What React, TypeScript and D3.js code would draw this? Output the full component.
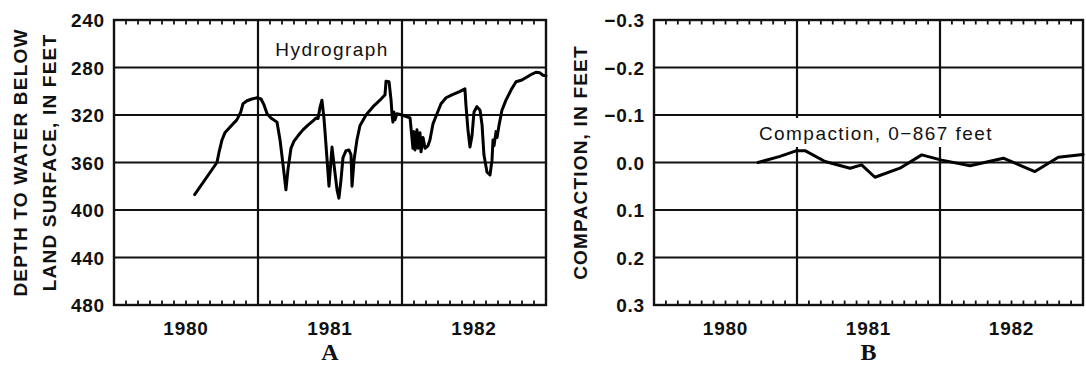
import React from "react";
import * as d3 from "d3";

// Water-level hydrograph: decimal year and depth to water (feet below land surface)
const HYDRO_TIME = [
  1980.56, 1980.715, 1980.73, 1980.75, 1980.77, 1980.8, 1980.826, 1980.847, 1980.86, 1980.88,
  1980.896, 1980.924, 1980.958, 1980.993, 1981.021, 1981.042, 1981.063, 1981.09, 1981.132, 1981.153,
  1981.174, 1981.194, 1981.208, 1981.229, 1981.25, 1981.278, 1981.312, 1981.347, 1981.382, 1981.403,
  1981.417, 1981.43, 1981.444, 1981.458, 1981.472, 1981.493, 1981.507, 1981.514, 1981.528, 1981.549,
  1981.562, 1981.576, 1981.59, 1981.611, 1981.632, 1981.646, 1981.653, 1981.667, 1981.687, 1981.708,
  1981.75, 1981.799, 1981.847, 1981.882, 1981.889, 1981.91, 1981.924, 1981.931, 1981.937, 1981.944,
  1981.951, 1981.965, 1982.0, 1982.035, 1982.056, 1982.069, 1982.076, 1982.083, 1982.09, 1982.104,
  1982.111, 1982.125, 1982.132, 1982.146, 1982.16, 1982.18, 1982.194, 1982.215, 1982.243, 1982.271,
  1982.306, 1982.347, 1982.396, 1982.437, 1982.444, 1982.458, 1982.472, 1982.486, 1982.5, 1982.52,
  1982.542, 1982.556, 1982.569, 1982.59, 1982.611, 1982.625, 1982.632, 1982.639, 1982.653, 1982.66,
  1982.674, 1982.694, 1982.722, 1982.757, 1982.792, 1982.833, 1982.868, 1982.903, 1982.93, 1982.958,
  1982.979, 1983.0,
];
const HYDRO_DEPTH = [
  387, 360, 351, 341, 335, 331, 327.5, 325, 322.5, 317.5,
  310.5, 308, 306.5, 305.5, 306.5, 311.5, 319, 322.5, 326, 341,
  362, 383, 366, 348, 342, 337.5, 332.5, 328.5, 325, 322.5,
  323, 314, 307.5, 322.5, 345, 380, 358, 347, 362, 383,
  390, 375, 356, 350, 349.5, 353.5, 380, 358, 341, 329,
  320, 313, 307.5, 303, 291.5, 292, 307.5, 320, 326, 317.5,
  324, 319, 320, 321.5, 322.5, 339, 348, 334, 349.5, 332.5,
  348, 335, 351, 339, 348, 346, 341, 327.5, 319, 310.5,
  305.5, 303, 300.5, 298, 311.5, 332.5, 347, 337.5, 317.5, 313,
  316, 328.5, 353.5, 368, 370.5, 358, 341, 346, 334, 339,
  328.5, 316, 307.5, 299, 292, 290.5, 288, 285.5, 284, 284.5,
  286.5, 287,
];

// Extensometer record: decimal year and compaction (feet, negative = expansion)
const COMP_TIME = [
  1980.727, 1980.881, 1980.998, 1981.056, 1981.196, 1981.371, 1981.452, 1981.545, 1981.72,
  1981.872, 1982.012, 1982.21, 1982.443, 1982.664, 1982.827, 1983.0,
];
const COMP_VALUE = [
  0.0, -0.013, -0.025, -0.025, -0.002, 0.012, 0.005, 0.031, 0.012,
  -0.016, -0.005, 0.007, -0.009, 0.019, -0.011, -0.017,
];

const YEARS = [1980, 1981, 1982];
const YEAR_LABELS = ["1980", "1981", "1982"];
const DEPTH_TICKS = [240, 280, 320, 360, 400, 440, 480];
const DEPTH_LABELS = ["240", "280", "320", "360", "400", "440", "480"];
const COMP_TICKS = [-0.3, -0.2, -0.1, 0, 0.1, 0.2, 0.3];
const COMP_LABELS = ["\u22120.3", "\u22120.2", "\u22120.1", "0.0", "0.1", "0.2", "0.3"];

const SANS = "'Liberation Sans', Arial, Helvetica, sans-serif";
const SERIF = "'Liberation Serif', 'Times New Roman', serif";

const TOP = 20;
const BOTTOM = 305;

type PanelProps = {
  left: number;
  right: number;
  yDomain: [number, number];
  ticks: number[];
  tickLabels: string[];
  times: number[];
  values: number[];
  titleLines: string[];
  titleX: number[];
  letter: string;
  children?: (x: d3.ScaleLinear<number, number>, y: d3.ScaleLinear<number, number>) => React.ReactNode;
};

function Panel({ left, right, yDomain, ticks, tickLabels, times, values, titleLines, titleX, letter, children }: PanelProps) {
  const x = d3.scaleLinear().domain([1980, 1983]).range([left, right]);
  const y = d3.scaleLinear().domain(yDomain).range([TOP, BOTTOM]);
  const months = d3.range(1, 36).filter((m) => m % 12 !== 0).map((m) => 1980 + m / 12);
  const line = d3
    .line<number>()
    .x((_, i) => x(times[i]))
    .y((v) => y(v));
  const midY = (TOP + BOTTOM) / 2;

  return (
    <g>
      {/* horizontal grid */}
      {ticks.map((t) => (
        <line key={"h" + t} x1={left} x2={right} y1={y(t)} y2={y(t)} stroke="#111" strokeWidth={2.2} />
      ))}
      {/* year dividers */}
      {[1981, 1982].map((yr) => (
        <line key={"v" + yr} x1={x(yr)} x2={x(yr)} y1={TOP} y2={BOTTOM} stroke="#111" strokeWidth={2.2} />
      ))}
      {/* monthly ticks, inward on top and bottom */}
      {months.map((m) => (
        <g key={"m" + m}>
          <line x1={x(m)} x2={x(m)} y1={TOP} y2={TOP + 4.5} stroke="#111" strokeWidth={1.8} />
          <line x1={x(m)} x2={x(m)} y1={BOTTOM} y2={BOTTOM - 4.5} stroke="#111" strokeWidth={1.8} />
        </g>
      ))}
      <rect x={left} y={TOP} width={right - left} height={BOTTOM - TOP} fill="none" stroke="#111" strokeWidth={2.4} />
      {children && children(x, y)}
      <path d={line(values) || ""} fill="none" stroke="#000" strokeWidth={3} strokeLinejoin="round" strokeLinecap="round" />
      {/* y tick labels */}
      {ticks.map((t, i) => (
        <text
          key={"yl" + t}
          x={left - 9}
          y={y(t) + 7}
          textAnchor="end"
          fontFamily={SANS}
          fontWeight="bold"
          fontSize={19}
          letterSpacing={0.8}
          fill="#111"
        >
          {tickLabels[i]}
        </text>
      ))}
      {/* year labels */}
      {YEARS.map((yr, i) => (
        <text
          key={"xl" + yr}
          x={x(yr + 0.5)}
          y={335}
          textAnchor="middle"
          fontFamily={SANS}
          fontWeight="bold"
          fontSize={19}
          letterSpacing={0.8}
          fill="#111"
        >
          {YEAR_LABELS[i]}
        </text>
      ))}
      {/* axis title */}
      {titleLines.map((s, i) => (
        <text
          key={"t" + i}
          transform={`translate(${titleX[i]},${midY}) rotate(-90)`}
          textAnchor="middle"
          fontFamily={SANS}
          fontWeight="bold"
          fontSize={19}
          letterSpacing={1.2}
          fill="#111"
        >
          {s}
        </text>
      ))}
      <text x={(left + right) / 2} y={360} textAnchor="middle" fontFamily={SERIF} fontWeight="bold" fontSize={24} fill="#111">
        {letter}
      </text>
    </g>
  );
}

export default function App() {
  return (
    <svg
      width={1086}
      height={366}
      viewBox="0 0 1086 366"
      style={{ position: "absolute", left: 0, top: 0, background: "#fff" }}
    >
      <rect width={1086} height={366} fill="#fff" />
      <Panel
        left={114}
        right={546}
        yDomain={[240, 480]}
        ticks={DEPTH_TICKS}
        tickLabels={DEPTH_LABELS}
        times={HYDRO_TIME}
        values={HYDRO_DEPTH}
        titleLines={["DEPTH TO WATER BELOW", "LAND SURFACE, IN FEET"]}
        titleX={[27, 56]}
        letter="A"
      >
        {() => (
          <text x={332} y={56} textAnchor="middle" fontFamily={SANS} fontSize={19} letterSpacing={1.4} fill="#111">
            Hydrograph
          </text>
        )}
      </Panel>
      <Panel
        left={654}
        right={1083}
        yDomain={[-0.3, 0.3]}
        ticks={COMP_TICKS}
        tickLabels={COMP_LABELS}
        times={COMP_TIME}
        values={COMP_VALUE}
        titleLines={["COMPACTION, IN FEET"]}
        titleX={[587]}
        letter="B"
      >
        {() => (
          <g>
            <rect x={752} y={118} width={250} height={29} fill="#fff" />
            <text x={876} y={140} textAnchor="middle" fontFamily={SANS} fontSize={19} letterSpacing={1.45} fill="#111">
              Compaction, 0{"\u2212"}867 feet
            </text>
          </g>
        )}
      </Panel>
    </svg>
  );
}
